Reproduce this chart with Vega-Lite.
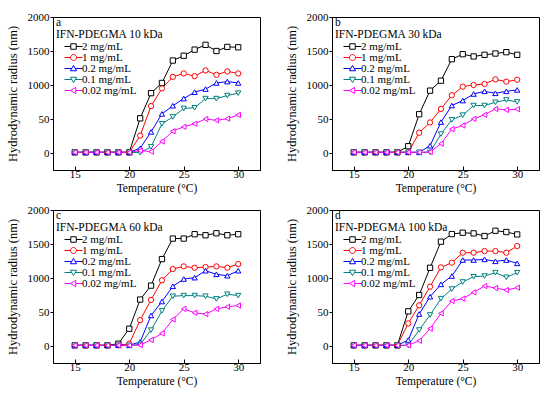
{
"$schema": "https://vega.github.io/schema/vega-lite/v6.json",
"padding": {"left": 5, "top": 10, "right": 5, "bottom": 4},
"config": {
 "font": "Liberation Serif",
 "view": {"stroke": "black", "strokeWidth": 1},
 "axis": {"grid": false, "domainColor": "black", "tickColor": "black", "labelColor": "black", "titleColor": "black", "labelFontSize": 11, "titleFontSize": 11.5, "titleFontWeight": "normal", "labelFont": "Liberation Serif", "titleFont": "Liberation Serif"},
 "axisY": {"titleFontSize": 12.5},
 "legend": {"padding": 0, "rowPadding": -1.8, "labelFontSize": 11, "titleFontSize": 11.5, "titleFontWeight": "normal", "titleLineHeight": 12, "symbolSize": 100, "symbolOffset": 7, "labelOffset": 8, "titlePadding": 0.5, "labelColor": "black", "titleColor": "black", "labelFont": "Liberation Serif", "titleFont": "Liberation Serif", "symbolStrokeWidth": 1}
},
"data": {"values": [
{"p":"a","t":15,"c":"2 mg/mL","r":10},{"p":"a","t":16,"c":"2 mg/mL","r":10},{"p":"a","t":17,"c":"2 mg/mL","r":10},{"p":"a","t":18,"c":"2 mg/mL","r":10},{"p":"a","t":19,"c":"2 mg/mL","r":10},{"p":"a","t":20,"c":"2 mg/mL","r":10},{"p":"a","t":21,"c":"2 mg/mL","r":510},{"p":"a","t":22,"c":"2 mg/mL","r":880},{"p":"a","t":23,"c":"2 mg/mL","r":1030},{"p":"a","t":24,"c":"2 mg/mL","r":1360},{"p":"a","t":25,"c":"2 mg/mL","r":1430},{"p":"a","t":26,"c":"2 mg/mL","r":1520},{"p":"a","t":27,"c":"2 mg/mL","r":1590},{"p":"a","t":28,"c":"2 mg/mL","r":1500},{"p":"a","t":29,"c":"2 mg/mL","r":1560},{"p":"a","t":30,"c":"2 mg/mL","r":1555},
{"p":"a","t":15,"c":"1 mg/mL","r":10},{"p":"a","t":16,"c":"1 mg/mL","r":10},{"p":"a","t":17,"c":"1 mg/mL","r":10},{"p":"a","t":18,"c":"1 mg/mL","r":10},{"p":"a","t":19,"c":"1 mg/mL","r":10},{"p":"a","t":20,"c":"1 mg/mL","r":10},{"p":"a","t":21,"c":"1 mg/mL","r":255},{"p":"a","t":22,"c":"1 mg/mL","r":690},{"p":"a","t":23,"c":"1 mg/mL","r":950},{"p":"a","t":24,"c":"1 mg/mL","r":1120},{"p":"a","t":25,"c":"1 mg/mL","r":1170},{"p":"a","t":26,"c":"1 mg/mL","r":1130},{"p":"a","t":27,"c":"1 mg/mL","r":1215},{"p":"a","t":28,"c":"1 mg/mL","r":1150},{"p":"a","t":29,"c":"1 mg/mL","r":1200},{"p":"a","t":30,"c":"1 mg/mL","r":1170},
{"p":"a","t":15,"c":"0.2 mg/mL","r":10},{"p":"a","t":16,"c":"0.2 mg/mL","r":10},{"p":"a","t":17,"c":"0.2 mg/mL","r":10},{"p":"a","t":18,"c":"0.2 mg/mL","r":10},{"p":"a","t":19,"c":"0.2 mg/mL","r":10},{"p":"a","t":20,"c":"0.2 mg/mL","r":10},{"p":"a","t":21,"c":"0.2 mg/mL","r":70},{"p":"a","t":22,"c":"0.2 mg/mL","r":310},{"p":"a","t":23,"c":"0.2 mg/mL","r":575},{"p":"a","t":24,"c":"0.2 mg/mL","r":695},{"p":"a","t":25,"c":"0.2 mg/mL","r":800},{"p":"a","t":26,"c":"0.2 mg/mL","r":895},{"p":"a","t":27,"c":"0.2 mg/mL","r":940},{"p":"a","t":28,"c":"0.2 mg/mL","r":1030},{"p":"a","t":29,"c":"0.2 mg/mL","r":1050},{"p":"a","t":30,"c":"0.2 mg/mL","r":1030},
{"p":"a","t":15,"c":"0.1 mg/mL","r":10},{"p":"a","t":16,"c":"0.1 mg/mL","r":10},{"p":"a","t":17,"c":"0.1 mg/mL","r":10},{"p":"a","t":18,"c":"0.1 mg/mL","r":10},{"p":"a","t":19,"c":"0.1 mg/mL","r":10},{"p":"a","t":20,"c":"0.1 mg/mL","r":10},{"p":"a","t":21,"c":"0.1 mg/mL","r":5},{"p":"a","t":22,"c":"0.1 mg/mL","r":90},{"p":"a","t":23,"c":"0.1 mg/mL","r":430},{"p":"a","t":24,"c":"0.1 mg/mL","r":530},{"p":"a","t":25,"c":"0.1 mg/mL","r":655},{"p":"a","t":26,"c":"0.1 mg/mL","r":665},{"p":"a","t":27,"c":"0.1 mg/mL","r":800},{"p":"a","t":28,"c":"0.1 mg/mL","r":800},{"p":"a","t":29,"c":"0.1 mg/mL","r":845},{"p":"a","t":30,"c":"0.1 mg/mL","r":880},
{"p":"a","t":15,"c":"0.02 mg/mL","r":10},{"p":"a","t":16,"c":"0.02 mg/mL","r":10},{"p":"a","t":17,"c":"0.02 mg/mL","r":10},{"p":"a","t":18,"c":"0.02 mg/mL","r":10},{"p":"a","t":19,"c":"0.02 mg/mL","r":10},{"p":"a","t":20,"c":"0.02 mg/mL","r":10},{"p":"a","t":21,"c":"0.02 mg/mL","r":35},{"p":"a","t":22,"c":"0.02 mg/mL","r":20},{"p":"a","t":23,"c":"0.02 mg/mL","r":170},{"p":"a","t":24,"c":"0.02 mg/mL","r":320},{"p":"a","t":25,"c":"0.02 mg/mL","r":385},{"p":"a","t":26,"c":"0.02 mg/mL","r":430},{"p":"a","t":27,"c":"0.02 mg/mL","r":500},{"p":"a","t":28,"c":"0.02 mg/mL","r":480},{"p":"a","t":29,"c":"0.02 mg/mL","r":505},{"p":"a","t":30,"c":"0.02 mg/mL","r":560},
{"p":"b","t":15,"c":"2 mg/mL","r":10},{"p":"b","t":16,"c":"2 mg/mL","r":10},{"p":"b","t":17,"c":"2 mg/mL","r":10},{"p":"b","t":18,"c":"2 mg/mL","r":10},{"p":"b","t":19,"c":"2 mg/mL","r":10},{"p":"b","t":20,"c":"2 mg/mL","r":100},{"p":"b","t":21,"c":"2 mg/mL","r":570},{"p":"b","t":22,"c":"2 mg/mL","r":917},{"p":"b","t":23,"c":"2 mg/mL","r":1063},{"p":"b","t":24,"c":"2 mg/mL","r":1380},{"p":"b","t":25,"c":"2 mg/mL","r":1453},{"p":"b","t":26,"c":"2 mg/mL","r":1420},{"p":"b","t":27,"c":"2 mg/mL","r":1444},{"p":"b","t":28,"c":"2 mg/mL","r":1463},{"p":"b","t":29,"c":"2 mg/mL","r":1483},{"p":"b","t":30,"c":"2 mg/mL","r":1444},
{"p":"b","t":15,"c":"1 mg/mL","r":10},{"p":"b","t":16,"c":"1 mg/mL","r":10},{"p":"b","t":17,"c":"1 mg/mL","r":10},{"p":"b","t":18,"c":"1 mg/mL","r":10},{"p":"b","t":19,"c":"1 mg/mL","r":10},{"p":"b","t":20,"c":"1 mg/mL","r":10},{"p":"b","t":21,"c":"1 mg/mL","r":298},{"p":"b","t":22,"c":"1 mg/mL","r":449},{"p":"b","t":23,"c":"1 mg/mL","r":649},{"p":"b","t":24,"c":"1 mg/mL","r":849},{"p":"b","t":25,"c":"1 mg/mL","r":976},{"p":"b","t":26,"c":"1 mg/mL","r":1000},{"p":"b","t":27,"c":"1 mg/mL","r":1015},{"p":"b","t":28,"c":"1 mg/mL","r":1083},{"p":"b","t":29,"c":"1 mg/mL","r":1049},{"p":"b","t":30,"c":"1 mg/mL","r":1078},
{"p":"b","t":15,"c":"0.2 mg/mL","r":10},{"p":"b","t":16,"c":"0.2 mg/mL","r":10},{"p":"b","t":17,"c":"0.2 mg/mL","r":10},{"p":"b","t":18,"c":"0.2 mg/mL","r":10},{"p":"b","t":19,"c":"0.2 mg/mL","r":10},{"p":"b","t":20,"c":"0.2 mg/mL","r":10},{"p":"b","t":21,"c":"0.2 mg/mL","r":10},{"p":"b","t":22,"c":"0.2 mg/mL","r":107},{"p":"b","t":23,"c":"0.2 mg/mL","r":454},{"p":"b","t":24,"c":"0.2 mg/mL","r":698},{"p":"b","t":25,"c":"0.2 mg/mL","r":771},{"p":"b","t":26,"c":"0.2 mg/mL","r":868},{"p":"b","t":27,"c":"0.2 mg/mL","r":907},{"p":"b","t":28,"c":"0.2 mg/mL","r":878},{"p":"b","t":29,"c":"0.2 mg/mL","r":907},{"p":"b","t":30,"c":"0.2 mg/mL","r":927},
{"p":"b","t":15,"c":"0.1 mg/mL","r":10},{"p":"b","t":16,"c":"0.1 mg/mL","r":10},{"p":"b","t":17,"c":"0.1 mg/mL","r":10},{"p":"b","t":18,"c":"0.1 mg/mL","r":10},{"p":"b","t":19,"c":"0.1 mg/mL","r":10},{"p":"b","t":20,"c":"0.1 mg/mL","r":10},{"p":"b","t":21,"c":"0.1 mg/mL","r":10},{"p":"b","t":22,"c":"0.1 mg/mL","r":10},{"p":"b","t":23,"c":"0.1 mg/mL","r":278},{"p":"b","t":24,"c":"0.1 mg/mL","r":488},{"p":"b","t":25,"c":"0.1 mg/mL","r":556},{"p":"b","t":26,"c":"0.1 mg/mL","r":698},{"p":"b","t":27,"c":"0.1 mg/mL","r":698},{"p":"b","t":28,"c":"0.1 mg/mL","r":746},{"p":"b","t":29,"c":"0.1 mg/mL","r":780},{"p":"b","t":30,"c":"0.1 mg/mL","r":751},
{"p":"b","t":15,"c":"0.02 mg/mL","r":10},{"p":"b","t":16,"c":"0.02 mg/mL","r":10},{"p":"b","t":17,"c":"0.02 mg/mL","r":10},{"p":"b","t":18,"c":"0.02 mg/mL","r":10},{"p":"b","t":19,"c":"0.02 mg/mL","r":10},{"p":"b","t":20,"c":"0.02 mg/mL","r":10},{"p":"b","t":21,"c":"0.02 mg/mL","r":10},{"p":"b","t":22,"c":"0.02 mg/mL","r":15},{"p":"b","t":23,"c":"0.02 mg/mL","r":137},{"p":"b","t":24,"c":"0.02 mg/mL","r":351},{"p":"b","t":25,"c":"0.02 mg/mL","r":405},{"p":"b","t":26,"c":"0.02 mg/mL","r":502},{"p":"b","t":27,"c":"0.02 mg/mL","r":561},{"p":"b","t":28,"c":"0.02 mg/mL","r":649},{"p":"b","t":29,"c":"0.02 mg/mL","r":634},{"p":"b","t":30,"c":"0.02 mg/mL","r":644},
{"p":"c","t":15,"c":"2 mg/mL","r":10},{"p":"c","t":16,"c":"2 mg/mL","r":10},{"p":"c","t":17,"c":"2 mg/mL","r":10},{"p":"c","t":18,"c":"2 mg/mL","r":10},{"p":"c","t":19,"c":"2 mg/mL","r":34},{"p":"c","t":20,"c":"2 mg/mL","r":254},{"p":"c","t":21,"c":"2 mg/mL","r":683},{"p":"c","t":22,"c":"2 mg/mL","r":888},{"p":"c","t":23,"c":"2 mg/mL","r":1278},{"p":"c","t":24,"c":"2 mg/mL","r":1580},{"p":"c","t":25,"c":"2 mg/mL","r":1580},{"p":"c","t":26,"c":"2 mg/mL","r":1644},{"p":"c","t":27,"c":"2 mg/mL","r":1629},{"p":"c","t":28,"c":"2 mg/mL","r":1658},{"p":"c","t":29,"c":"2 mg/mL","r":1629},{"p":"c","t":30,"c":"2 mg/mL","r":1644},
{"p":"c","t":15,"c":"1 mg/mL","r":10},{"p":"c","t":16,"c":"1 mg/mL","r":10},{"p":"c","t":17,"c":"1 mg/mL","r":10},{"p":"c","t":18,"c":"1 mg/mL","r":10},{"p":"c","t":19,"c":"1 mg/mL","r":10},{"p":"c","t":20,"c":"1 mg/mL","r":34},{"p":"c","t":21,"c":"1 mg/mL","r":380},{"p":"c","t":22,"c":"1 mg/mL","r":678},{"p":"c","t":23,"c":"1 mg/mL","r":966},{"p":"c","t":24,"c":"1 mg/mL","r":1132},{"p":"c","t":25,"c":"1 mg/mL","r":1171},{"p":"c","t":26,"c":"1 mg/mL","r":1151},{"p":"c","t":27,"c":"1 mg/mL","r":1161},{"p":"c","t":28,"c":"1 mg/mL","r":1171},{"p":"c","t":29,"c":"1 mg/mL","r":1151},{"p":"c","t":30,"c":"1 mg/mL","r":1205},
{"p":"c","t":15,"c":"0.2 mg/mL","r":10},{"p":"c","t":16,"c":"0.2 mg/mL","r":10},{"p":"c","t":17,"c":"0.2 mg/mL","r":10},{"p":"c","t":18,"c":"0.2 mg/mL","r":10},{"p":"c","t":19,"c":"0.2 mg/mL","r":10},{"p":"c","t":20,"c":"0.2 mg/mL","r":10},{"p":"c","t":21,"c":"0.2 mg/mL","r":59},{"p":"c","t":22,"c":"0.2 mg/mL","r":449},{"p":"c","t":23,"c":"0.2 mg/mL","r":654},{"p":"c","t":24,"c":"0.2 mg/mL","r":878},{"p":"c","t":25,"c":"0.2 mg/mL","r":985},{"p":"c","t":26,"c":"0.2 mg/mL","r":1005},{"p":"c","t":27,"c":"0.2 mg/mL","r":1107},{"p":"c","t":28,"c":"0.2 mg/mL","r":1054},{"p":"c","t":29,"c":"0.2 mg/mL","r":1034},{"p":"c","t":30,"c":"0.2 mg/mL","r":1107},
{"p":"c","t":15,"c":"0.1 mg/mL","r":10},{"p":"c","t":16,"c":"0.1 mg/mL","r":10},{"p":"c","t":17,"c":"0.1 mg/mL","r":10},{"p":"c","t":18,"c":"0.1 mg/mL","r":10},{"p":"c","t":19,"c":"0.1 mg/mL","r":10},{"p":"c","t":20,"c":"0.1 mg/mL","r":10},{"p":"c","t":21,"c":"0.1 mg/mL","r":20},{"p":"c","t":22,"c":"0.1 mg/mL","r":234},{"p":"c","t":23,"c":"0.1 mg/mL","r":517},{"p":"c","t":24,"c":"0.1 mg/mL","r":732},{"p":"c","t":25,"c":"0.1 mg/mL","r":741},{"p":"c","t":26,"c":"0.1 mg/mL","r":741},{"p":"c","t":27,"c":"0.1 mg/mL","r":732},{"p":"c","t":28,"c":"0.1 mg/mL","r":693},{"p":"c","t":29,"c":"0.1 mg/mL","r":761},{"p":"c","t":30,"c":"0.1 mg/mL","r":741},
{"p":"c","t":15,"c":"0.02 mg/mL","r":10},{"p":"c","t":16,"c":"0.02 mg/mL","r":10},{"p":"c","t":17,"c":"0.02 mg/mL","r":10},{"p":"c","t":18,"c":"0.02 mg/mL","r":10},{"p":"c","t":19,"c":"0.02 mg/mL","r":10},{"p":"c","t":20,"c":"0.02 mg/mL","r":10},{"p":"c","t":21,"c":"0.02 mg/mL","r":15},{"p":"c","t":22,"c":"0.02 mg/mL","r":88},{"p":"c","t":23,"c":"0.02 mg/mL","r":185},{"p":"c","t":24,"c":"0.02 mg/mL","r":390},{"p":"c","t":25,"c":"0.02 mg/mL","r":546},{"p":"c","t":26,"c":"0.02 mg/mL","r":488},{"p":"c","t":27,"c":"0.02 mg/mL","r":468},{"p":"c","t":28,"c":"0.02 mg/mL","r":546},{"p":"c","t":29,"c":"0.02 mg/mL","r":576},{"p":"c","t":30,"c":"0.02 mg/mL","r":595},
{"p":"d","t":15,"c":"2 mg/mL","r":10},{"p":"d","t":16,"c":"2 mg/mL","r":10},{"p":"d","t":17,"c":"2 mg/mL","r":10},{"p":"d","t":18,"c":"2 mg/mL","r":10},{"p":"d","t":19,"c":"2 mg/mL","r":10},{"p":"d","t":20,"c":"2 mg/mL","r":510},{"p":"d","t":21,"c":"2 mg/mL","r":750},{"p":"d","t":22,"c":"2 mg/mL","r":1150},{"p":"d","t":23,"c":"2 mg/mL","r":1534},{"p":"d","t":24,"c":"2 mg/mL","r":1646},{"p":"d","t":25,"c":"2 mg/mL","r":1666},{"p":"d","t":26,"c":"2 mg/mL","r":1656},{"p":"d","t":27,"c":"2 mg/mL","r":1617},{"p":"d","t":28,"c":"2 mg/mL","r":1695},{"p":"d","t":29,"c":"2 mg/mL","r":1676},{"p":"d","t":30,"c":"2 mg/mL","r":1641},
{"p":"d","t":15,"c":"1 mg/mL","r":10},{"p":"d","t":16,"c":"1 mg/mL","r":10},{"p":"d","t":17,"c":"1 mg/mL","r":10},{"p":"d","t":18,"c":"1 mg/mL","r":10},{"p":"d","t":19,"c":"1 mg/mL","r":10},{"p":"d","t":20,"c":"1 mg/mL","r":333},{"p":"d","t":21,"c":"1 mg/mL","r":598},{"p":"d","t":22,"c":"1 mg/mL","r":872},{"p":"d","t":23,"c":"1 mg/mL","r":1156},{"p":"d","t":24,"c":"1 mg/mL","r":1225},{"p":"d","t":25,"c":"1 mg/mL","r":1372},{"p":"d","t":26,"c":"1 mg/mL","r":1372},{"p":"d","t":27,"c":"1 mg/mL","r":1396},{"p":"d","t":28,"c":"1 mg/mL","r":1396},{"p":"d","t":29,"c":"1 mg/mL","r":1372},{"p":"d","t":30,"c":"1 mg/mL","r":1470},
{"p":"d","t":15,"c":"0.2 mg/mL","r":10},{"p":"d","t":16,"c":"0.2 mg/mL","r":10},{"p":"d","t":17,"c":"0.2 mg/mL","r":10},{"p":"d","t":18,"c":"0.2 mg/mL","r":10},{"p":"d","t":19,"c":"0.2 mg/mL","r":10},{"p":"d","t":20,"c":"0.2 mg/mL","r":88},{"p":"d","t":21,"c":"0.2 mg/mL","r":470},{"p":"d","t":22,"c":"0.2 mg/mL","r":725},{"p":"d","t":23,"c":"0.2 mg/mL","r":906},{"p":"d","t":24,"c":"0.2 mg/mL","r":1029},{"p":"d","t":25,"c":"0.2 mg/mL","r":1264},{"p":"d","t":26,"c":"0.2 mg/mL","r":1264},{"p":"d","t":27,"c":"0.2 mg/mL","r":1274},{"p":"d","t":28,"c":"0.2 mg/mL","r":1245},{"p":"d","t":29,"c":"0.2 mg/mL","r":1264},{"p":"d","t":30,"c":"0.2 mg/mL","r":1215},
{"p":"d","t":15,"c":"0.1 mg/mL","r":10},{"p":"d","t":16,"c":"0.1 mg/mL","r":10},{"p":"d","t":17,"c":"0.1 mg/mL","r":10},{"p":"d","t":18,"c":"0.1 mg/mL","r":10},{"p":"d","t":19,"c":"0.1 mg/mL","r":10},{"p":"d","t":20,"c":"0.1 mg/mL","r":10},{"p":"d","t":21,"c":"0.1 mg/mL","r":235},{"p":"d","t":22,"c":"0.1 mg/mL","r":456},{"p":"d","t":23,"c":"0.1 mg/mL","r":696},{"p":"d","t":24,"c":"0.1 mg/mL","r":838},{"p":"d","t":25,"c":"0.1 mg/mL","r":941},{"p":"d","t":26,"c":"0.1 mg/mL","r":1019},{"p":"d","t":27,"c":"0.1 mg/mL","r":1029},{"p":"d","t":28,"c":"0.1 mg/mL","r":1078},{"p":"d","t":29,"c":"0.1 mg/mL","r":1010},{"p":"d","t":30,"c":"0.1 mg/mL","r":1078},
{"p":"d","t":15,"c":"0.02 mg/mL","r":10},{"p":"d","t":16,"c":"0.02 mg/mL","r":10},{"p":"d","t":17,"c":"0.02 mg/mL","r":10},{"p":"d","t":18,"c":"0.02 mg/mL","r":10},{"p":"d","t":19,"c":"0.02 mg/mL","r":10},{"p":"d","t":20,"c":"0.02 mg/mL","r":10},{"p":"d","t":21,"c":"0.02 mg/mL","r":78},{"p":"d","t":22,"c":"0.02 mg/mL","r":255},{"p":"d","t":23,"c":"0.02 mg/mL","r":480},{"p":"d","t":24,"c":"0.02 mg/mL","r":662},{"p":"d","t":25,"c":"0.02 mg/mL","r":696},{"p":"d","t":26,"c":"0.02 mg/mL","r":789},{"p":"d","t":27,"c":"0.02 mg/mL","r":882},{"p":"d","t":28,"c":"0.02 mg/mL","r":853},{"p":"d","t":29,"c":"0.02 mg/mL","r":823},{"p":"d","t":30,"c":"0.02 mg/mL","r":858}
]},
"columns": 2,
"spacing": {"row": 9, "column": 23},
"resolve": {"scale": {"color": "independent", "shape": "independent"}, "legend": {"color": "independent", "shape": "independent"}},
"concat": [
{"width": 207, "height": 153, "transform": [{"filter": "datum.p === 'a'"}],
 "encoding": {
  "x": {"field": "t", "type": "quantitative", "scale": {"domain": [13, 32], "nice": false}, "axis": {"title": "Temperature (°C)", "values": [15, 20, 25, 30], "tickSize": -4, "labelPadding": 2, "titlePadding": 3}},
  "y": {"field": "r", "type": "quantitative", "scale": {"domain": [-250, 2000], "nice": false, "zero": false}, "axis": {"title": "Hydrodynamic radius (nm)", "values": [0, 500, 1000, 1500, 2000], "labelExpr": "datum.value == 500 ? '50' : '' + datum.value", "tickSize": 3, "labelPadding": 1, "titlePadding": 8}},
  "color": {"field": "c", "type": "nominal", "scale": {"domain": ["2 mg/mL", "1 mg/mL", "0.2 mg/mL", "0.1 mg/mL", "0.02 mg/mL"], "range": ["#000000", "#ff0000", "#0000ff", "#008080", "#ff00ff"]}, "legend": {"orient": "none", "legendX": 3, "legendY": 0, "rowPadding": -1.8, "title": ["a", "IFN-PDEGMA 10 kDa"]}}
 },
 "layer": [
  {"mark": {"type": "line", "strokeWidth": 1}, "encoding": {}},
  {"transform": [{"filter": "datum.c === '2 mg/mL'"}], "mark": {"type": "point", "shape": "square", "filled": false, "fill": "white", "size": 28, "strokeWidth": 1, "opacity": 1}, "encoding": {}},
  {"transform": [{"filter": "datum.c === '1 mg/mL'"}], "mark": {"type": "point", "shape": "circle", "filled": false, "fill": "white", "size": 28, "strokeWidth": 1, "opacity": 1}, "encoding": {}},
  {"transform": [{"filter": "datum.c === '0.2 mg/mL'"}], "mark": {"type": "point", "shape": "triangle-up", "filled": false, "fill": "white", "size": 28, "strokeWidth": 1, "opacity": 1}, "encoding": {}},
  {"transform": [{"filter": "datum.c === '0.1 mg/mL'"}], "mark": {"type": "point", "shape": "triangle-down", "filled": false, "fill": "white", "size": 28, "strokeWidth": 1, "opacity": 1}, "encoding": {}},
  {"transform": [{"filter": "datum.c === '0.02 mg/mL'"}], "mark": {"type": "point", "shape": "triangle-left", "filled": false, "fill": "white", "size": 28, "strokeWidth": 1, "opacity": 1}, "encoding": {}},
  {"mark": {"type": "point", "filled": false, "fill": "white", "size": 0, "strokeWidth": 1},
   "encoding": {
    "shape": {"field": "c", "type": "nominal", "scale": {"domain": ["2 mg/mL", "1 mg/mL", "0.2 mg/mL", "0.1 mg/mL", "0.02 mg/mL"], "range": ["M-0.8,0H0.45M1.55,0H2.8M0.45,-0.55H1.55V0.55H0.45Z", "M-0.8,0H0.4M1.6,0H2.8M0.4,0A0.6,0.6,0,1,0,1.6,0A0.6,0.6,0,1,0,0.4,0Z", "M-0.8,0H0.64M1.36,0H2.8M1,-0.62L1.62,0.45H0.38Z", "M-0.8,0H0.64M1.36,0H2.8M1,0.62L1.62,-0.45H0.38Z", "M-0.8,0H0.38M1.45,0H2.8M0.38,0L1.45,-0.62V0.62Z"]}, "legend": {"orient": "none", "legendX": 3, "legendY": 0, "rowPadding": -1.8, "title": ["a", "IFN-PDEGMA 10 kDa"]}}
   }}
 ]},
{"width": 207, "height": 153, "transform": [{"filter": "datum.p === 'b'"}],
 "encoding": {
  "x": {"field": "t", "type": "quantitative", "scale": {"domain": [13, 32], "nice": false}, "axis": {"title": "Temperature (°C)", "values": [15, 20, 25, 30], "tickSize": -4, "labelPadding": 2, "titlePadding": 3}},
  "y": {"field": "r", "type": "quantitative", "scale": {"domain": [-250, 2000], "nice": false, "zero": false}, "axis": {"title": "Hydrodynamic radius (nm)", "values": [0, 500, 1000, 1500, 2000], "labelExpr": "datum.value == 500 ? '50' : '' + datum.value", "tickSize": 3, "labelPadding": 1, "titlePadding": 8}},
  "color": {"field": "c", "type": "nominal", "scale": {"domain": ["2 mg/mL", "1 mg/mL", "0.2 mg/mL", "0.1 mg/mL", "0.02 mg/mL"], "range": ["#000000", "#ff0000", "#0000ff", "#008080", "#ff00ff"]}, "legend": {"orient": "none", "legendX": 3, "legendY": 0, "rowPadding": -1.8, "title": ["b", "IFN-PDEGMA 30 kDa"]}}
 },
 "layer": [
  {"mark": {"type": "line", "strokeWidth": 1}, "encoding": {}},
  {"transform": [{"filter": "datum.c === '2 mg/mL'"}], "mark": {"type": "point", "shape": "square", "filled": false, "fill": "white", "size": 28, "strokeWidth": 1, "opacity": 1}, "encoding": {}},
  {"transform": [{"filter": "datum.c === '1 mg/mL'"}], "mark": {"type": "point", "shape": "circle", "filled": false, "fill": "white", "size": 28, "strokeWidth": 1, "opacity": 1}, "encoding": {}},
  {"transform": [{"filter": "datum.c === '0.2 mg/mL'"}], "mark": {"type": "point", "shape": "triangle-up", "filled": false, "fill": "white", "size": 28, "strokeWidth": 1, "opacity": 1}, "encoding": {}},
  {"transform": [{"filter": "datum.c === '0.1 mg/mL'"}], "mark": {"type": "point", "shape": "triangle-down", "filled": false, "fill": "white", "size": 28, "strokeWidth": 1, "opacity": 1}, "encoding": {}},
  {"transform": [{"filter": "datum.c === '0.02 mg/mL'"}], "mark": {"type": "point", "shape": "triangle-left", "filled": false, "fill": "white", "size": 28, "strokeWidth": 1, "opacity": 1}, "encoding": {}},
  {"mark": {"type": "point", "filled": false, "fill": "white", "size": 0, "strokeWidth": 1},
   "encoding": {
    "shape": {"field": "c", "type": "nominal", "scale": {"domain": ["2 mg/mL", "1 mg/mL", "0.2 mg/mL", "0.1 mg/mL", "0.02 mg/mL"], "range": ["M-0.8,0H0.45M1.55,0H2.8M0.45,-0.55H1.55V0.55H0.45Z", "M-0.8,0H0.4M1.6,0H2.8M0.4,0A0.6,0.6,0,1,0,1.6,0A0.6,0.6,0,1,0,0.4,0Z", "M-0.8,0H0.64M1.36,0H2.8M1,-0.62L1.62,0.45H0.38Z", "M-0.8,0H0.64M1.36,0H2.8M1,0.62L1.62,-0.45H0.38Z", "M-0.8,0H0.38M1.45,0H2.8M0.38,0L1.45,-0.62V0.62Z"]}, "legend": {"orient": "none", "legendX": 3, "legendY": 0, "rowPadding": -1.8, "title": ["b", "IFN-PDEGMA 30 kDa"]}}
   }}
 ]},
{"width": 207, "height": 153, "transform": [{"filter": "datum.p === 'c'"}],
 "encoding": {
  "x": {"field": "t", "type": "quantitative", "scale": {"domain": [13, 32], "nice": false}, "axis": {"title": "Temperature (°C)", "values": [15, 20, 25, 30], "tickSize": -4, "labelPadding": 2, "titlePadding": 3}},
  "y": {"field": "r", "type": "quantitative", "scale": {"domain": [-250, 2000], "nice": false, "zero": false}, "axis": {"title": "Hydrodynamic radius (nm)", "values": [0, 500, 1000, 1500, 2000], "labelExpr": "datum.value == 500 ? '50' : '' + datum.value", "tickSize": 3, "labelPadding": 1, "titlePadding": 8}},
  "color": {"field": "c", "type": "nominal", "scale": {"domain": ["2 mg/mL", "1 mg/mL", "0.2 mg/mL", "0.1 mg/mL", "0.02 mg/mL"], "range": ["#000000", "#ff0000", "#0000ff", "#008080", "#ff00ff"]}, "legend": {"orient": "none", "legendX": 3, "legendY": 0, "rowPadding": -1.8, "title": ["c", "IFN-PDEGMA 60 kDa"]}}
 },
 "layer": [
  {"mark": {"type": "line", "strokeWidth": 1}, "encoding": {}},
  {"transform": [{"filter": "datum.c === '2 mg/mL'"}], "mark": {"type": "point", "shape": "square", "filled": false, "fill": "white", "size": 28, "strokeWidth": 1, "opacity": 1}, "encoding": {}},
  {"transform": [{"filter": "datum.c === '1 mg/mL'"}], "mark": {"type": "point", "shape": "circle", "filled": false, "fill": "white", "size": 28, "strokeWidth": 1, "opacity": 1}, "encoding": {}},
  {"transform": [{"filter": "datum.c === '0.2 mg/mL'"}], "mark": {"type": "point", "shape": "triangle-up", "filled": false, "fill": "white", "size": 28, "strokeWidth": 1, "opacity": 1}, "encoding": {}},
  {"transform": [{"filter": "datum.c === '0.1 mg/mL'"}], "mark": {"type": "point", "shape": "triangle-down", "filled": false, "fill": "white", "size": 28, "strokeWidth": 1, "opacity": 1}, "encoding": {}},
  {"transform": [{"filter": "datum.c === '0.02 mg/mL'"}], "mark": {"type": "point", "shape": "triangle-left", "filled": false, "fill": "white", "size": 28, "strokeWidth": 1, "opacity": 1}, "encoding": {}},
  {"mark": {"type": "point", "filled": false, "fill": "white", "size": 0, "strokeWidth": 1},
   "encoding": {
    "shape": {"field": "c", "type": "nominal", "scale": {"domain": ["2 mg/mL", "1 mg/mL", "0.2 mg/mL", "0.1 mg/mL", "0.02 mg/mL"], "range": ["M-0.8,0H0.45M1.55,0H2.8M0.45,-0.55H1.55V0.55H0.45Z", "M-0.8,0H0.4M1.6,0H2.8M0.4,0A0.6,0.6,0,1,0,1.6,0A0.6,0.6,0,1,0,0.4,0Z", "M-0.8,0H0.64M1.36,0H2.8M1,-0.62L1.62,0.45H0.38Z", "M-0.8,0H0.64M1.36,0H2.8M1,0.62L1.62,-0.45H0.38Z", "M-0.8,0H0.38M1.45,0H2.8M0.38,0L1.45,-0.62V0.62Z"]}, "legend": {"orient": "none", "legendX": 3, "legendY": 0, "rowPadding": -1.8, "title": ["c", "IFN-PDEGMA 60 kDa"]}}
   }}
 ]},
{"width": 207, "height": 153, "transform": [{"filter": "datum.p === 'd'"}],
 "encoding": {
  "x": {"field": "t", "type": "quantitative", "scale": {"domain": [13, 32], "nice": false}, "axis": {"title": "Temperature (°C)", "values": [15, 20, 25, 30], "tickSize": -4, "labelPadding": 2, "titlePadding": 3}},
  "y": {"field": "r", "type": "quantitative", "scale": {"domain": [-250, 2000], "nice": false, "zero": false}, "axis": {"title": "Hydrodynamic radius (nm)", "values": [0, 500, 1000, 1500, 2000], "labelExpr": "datum.value == 500 ? '50' : '' + datum.value", "tickSize": 3, "labelPadding": 1, "titlePadding": 8}},
  "color": {"field": "c", "type": "nominal", "scale": {"domain": ["2 mg/mL", "1 mg/mL", "0.2 mg/mL", "0.1 mg/mL", "0.02 mg/mL"], "range": ["#000000", "#ff0000", "#0000ff", "#008080", "#ff00ff"]}, "legend": {"orient": "none", "legendX": 3, "legendY": 0, "rowPadding": -1.8, "title": ["d", "IFN-PDEGMA 100 kDa"]}}
 },
 "layer": [
  {"mark": {"type": "line", "strokeWidth": 1}, "encoding": {}},
  {"transform": [{"filter": "datum.c === '2 mg/mL'"}], "mark": {"type": "point", "shape": "square", "filled": false, "fill": "white", "size": 28, "strokeWidth": 1, "opacity": 1}, "encoding": {}},
  {"transform": [{"filter": "datum.c === '1 mg/mL'"}], "mark": {"type": "point", "shape": "circle", "filled": false, "fill": "white", "size": 28, "strokeWidth": 1, "opacity": 1}, "encoding": {}},
  {"transform": [{"filter": "datum.c === '0.2 mg/mL'"}], "mark": {"type": "point", "shape": "triangle-up", "filled": false, "fill": "white", "size": 28, "strokeWidth": 1, "opacity": 1}, "encoding": {}},
  {"transform": [{"filter": "datum.c === '0.1 mg/mL'"}], "mark": {"type": "point", "shape": "triangle-down", "filled": false, "fill": "white", "size": 28, "strokeWidth": 1, "opacity": 1}, "encoding": {}},
  {"transform": [{"filter": "datum.c === '0.02 mg/mL'"}], "mark": {"type": "point", "shape": "triangle-left", "filled": false, "fill": "white", "size": 28, "strokeWidth": 1, "opacity": 1}, "encoding": {}},
  {"mark": {"type": "point", "filled": false, "fill": "white", "size": 0, "strokeWidth": 1},
   "encoding": {
    "shape": {"field": "c", "type": "nominal", "scale": {"domain": ["2 mg/mL", "1 mg/mL", "0.2 mg/mL", "0.1 mg/mL", "0.02 mg/mL"], "range": ["M-0.8,0H0.45M1.55,0H2.8M0.45,-0.55H1.55V0.55H0.45Z", "M-0.8,0H0.4M1.6,0H2.8M0.4,0A0.6,0.6,0,1,0,1.6,0A0.6,0.6,0,1,0,0.4,0Z", "M-0.8,0H0.64M1.36,0H2.8M1,-0.62L1.62,0.45H0.38Z", "M-0.8,0H0.64M1.36,0H2.8M1,0.62L1.62,-0.45H0.38Z", "M-0.8,0H0.38M1.45,0H2.8M0.38,0L1.45,-0.62V0.62Z"]}, "legend": {"orient": "none", "legendX": 3, "legendY": 0, "rowPadding": -1.8, "title": ["d", "IFN-PDEGMA 100 kDa"]}}
   }}
 ]}
]
}
